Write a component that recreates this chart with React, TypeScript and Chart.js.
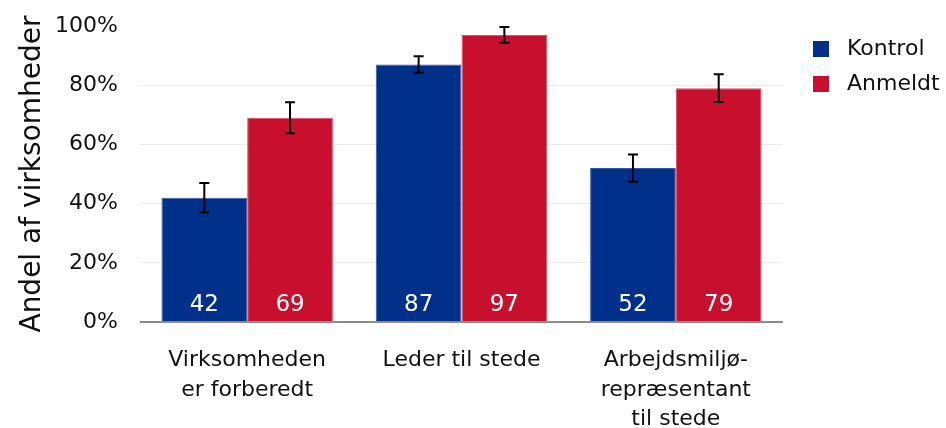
import React, { useEffect, useRef } from "react";
import { Chart, registerables } from "chart.js";

Chart.register(...registerables);

const categories: string[][] = [
  ["Virksomheden", "er forberedt"],
  ["Leder til stede"],
  ["Arbejdsmiljø-", "repræsentant", "til stede"],
];
const seriesNames = ["Kontrol", "Anmeldt"];
const kontrolValues = [42, 87, 52];
const anmeldtValues = [69, 97, 79];
const kontrolErrors = [5, 2.8, 4.6];
const anmeldtErrors = [5.2, 2.7, 4.7];
const yTicks = [0, 20, 40, 60, 80, 100];
const colors = ["#00308a", "#c8102e"];
const borderColors = ["#3a5aa0", "#d8506a"];
const FONT = "'DejaVu Sans', Verdana, sans-serif";

const errorBarsPlugin = {
  id: "errorBars",
  afterDatasetsDraw(chart: any) {
    const ctx = chart.ctx;
    const yScale = chart.scales.y;
    const errs = [kontrolErrors, anmeldtErrors];
    const vals = [kontrolValues, anmeldtValues];
    ctx.save();
    ctx.strokeStyle = "#000";
    ctx.lineWidth = 2;
    chart.data.datasets.forEach((_: any, i: number) => {
      const meta = chart.getDatasetMeta(i);
      meta.data.forEach((el: any, j: number) => {
        const x = el.x;
        const hi = yScale.getPixelForValue(vals[i][j] + errs[i][j]);
        const lo = yScale.getPixelForValue(vals[i][j] - errs[i][j]);
        ctx.beginPath();
        ctx.moveTo(x, hi);
        ctx.lineTo(x, lo);
        ctx.moveTo(x - 5, hi);
        ctx.lineTo(x + 5, hi);
        ctx.moveTo(x - 5, lo);
        ctx.lineTo(x + 5, lo);
        ctx.stroke();
      });
    });
    ctx.restore();
  },
};

const valueLabelsPlugin = {
  id: "valueLabels",
  afterDatasetsDraw(chart: any) {
    const ctx = chart.ctx;
    const yScale = chart.scales.y;
    const base = yScale.getPixelForValue(0);
    ctx.save();
    ctx.fillStyle = "#fff";
    ctx.font = `23px ${FONT}`;
    ctx.textAlign = "center";
    ctx.textBaseline = "middle";
    chart.data.datasets.forEach((ds: any, i: number) => {
      const meta = chart.getDatasetMeta(i);
      meta.data.forEach((el: any, j: number) => {
        ctx.fillText(String(ds.data[j]), el.x, base - 17);
      });
    });
    ctx.restore();
  },
};

const legendPlugin = {
  id: "customLegend",
  afterDraw(chart: any) {
    const ctx = chart.ctx;
    const x = chart.chartArea.right + 30;
    const ys = [49, 84];
    ctx.save();
    ctx.font = `22px ${FONT}`;
    ctx.textBaseline = "middle";
    ctx.textAlign = "left";
    seriesNames.forEach((name, i) => {
      ctx.fillStyle = colors[i];
      ctx.fillRect(x, ys[i] - 8, 16, 16);
      ctx.fillStyle = "#111";
      ctx.fillText(name, x + 34, ys[i]);
    });
    ctx.restore();
  },
};

export default function App() {
  const canvasRef = useRef<HTMLCanvasElement | null>(null);

  useEffect(() => {
    document.body.style.margin = "0";
    const canvas = canvasRef.current;
    if (!canvas) return;
    const chart = new Chart(canvas, {
      type: "bar",
      data: {
        labels: categories,
        datasets: [
          {
            label: seriesNames[0],
            data: kontrolValues,
            backgroundColor: colors[0],
            borderColor: borderColors[0],
            borderWidth: 1,
            categoryPercentage: 0.8,
            barPercentage: 1.0,
          },
          {
            label: seriesNames[1],
            data: anmeldtValues,
            backgroundColor: colors[1],
            borderColor: borderColors[1],
            borderWidth: 1,
            categoryPercentage: 0.8,
            barPercentage: 1.0,
          },
        ],
      },
      options: {
        animation: false,
        responsive: true,
        maintainAspectRatio: false,
        layout: { padding: { top: 26, right: 163, bottom: 0, left: 0 } },
        plugins: {
          legend: { display: false },
          tooltip: { enabled: false },
        },
        scales: {
          x: {
            grid: { display: false },
            border: { display: false },
            ticks: {
              color: "#111",
              font: { family: FONT, size: 22, lineHeight: 1.33 },
              padding: 16,
              maxRotation: 0,
              autoSkip: false,
            },
            afterFit: (s: any) => {
              s.height = 106;
            },
          },
          y: {
            min: 0,
            max: 100,
            afterBuildTicks: (s: any) => {
              s.ticks = yTicks.map((v) => ({ value: v }));
            },
            border: { display: false },
            grid: {
              drawTicks: false,
              color: (c: any) =>
                c.tick && c.tick.value === 0
                  ? "#8c8c8c"
                  : c.tick && c.tick.value === 100
                  ? "rgba(0,0,0,0)"
                  : "#ebebeb",
              lineWidth: (c: any) => (c.tick && c.tick.value === 0 ? 2 : 1),
            },
            ticks: {
              color: "#111",
              font: { family: FONT, size: 22 },
              padding: 22,
              callback: (v: any) => `${v}%`,
            },
            title: {
              display: true,
              text: "Andel af virksomheder",
              color: "#111",
              font: { family: FONT, size: 28 },
              padding: { top: 16, bottom: 0 },
            },
            afterFit: (s: any) => {
              s.width = 140;
              s.paddingTop = 10;
              s.paddingBottom = 10;
            },
          },
        },
      },
      plugins: [errorBarsPlugin, valueLabelsPlugin, legendPlugin],
    });
    return () => chart.destroy();
  }, []);

  return (
    <div style={{ width: 946, height: 428, position: "relative" }}>
      <canvas ref={canvasRef} />
    </div>
  );
}
